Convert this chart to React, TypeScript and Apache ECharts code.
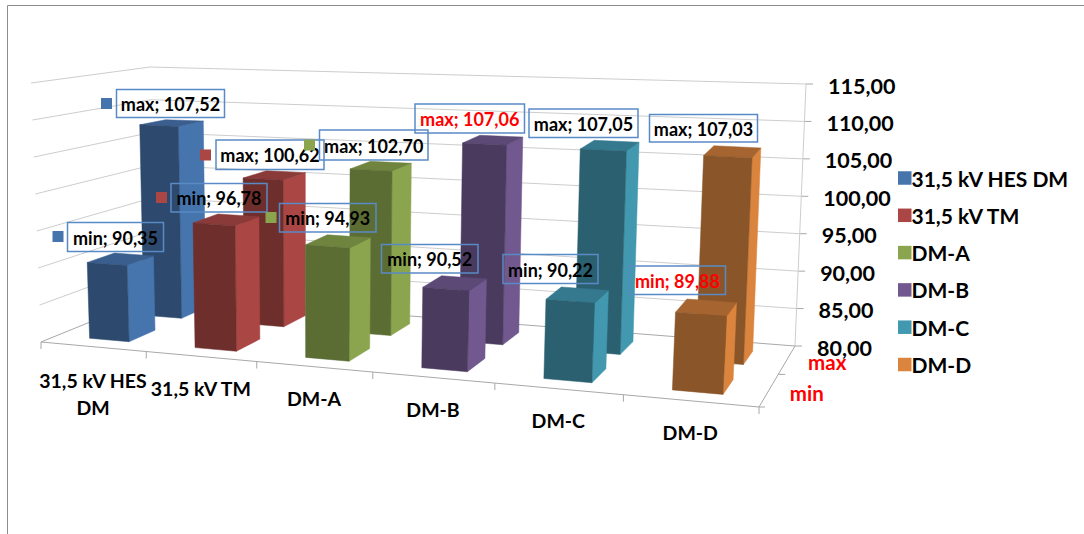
import React, { useEffect, useRef } from "react";
import * as echarts from "echarts";

// Categories along the front edge and the two rows running into the depth
const categories = ["31,5 kV HES DM", "31,5 kV TM", "DM-A", "DM-B", "DM-C", "DM-D"];
const categoryTicks = ["31,5 kV HES\nDM", "31,5 kV TM", "DM-A", "DM-B", "DM-C", "DM-D"];
const rows = ["min", "max"];

// Measured values per category
const minValues = [90.35, 96.78, 94.93, 90.52, 90.22, 89.88];
const maxValues = [107.52, 100.62, 102.7, 107.06, 107.05, 107.03];
const valueTicks = [80, 85, 90, 95, 100, 105, 110, 115];

// Face colours of each column: front, side, top, legend key
const frontColors = ["#2d4a6e", "#6e2e2c", "#5b6d33", "#4a3a5e", "#2b6071", "#8a5528"];
const sideColors = ["#4675ae", "#aa4643", "#8ba54e", "#71588f", "#4198af", "#db843d"];
const topColors = ["#3a5f8e", "#8a3a38", "#6e843f", "#5c4976", "#35798e", "#a66530"];

// Value label boxes: left, top, width, height, in category/row order
const minBoxes = [
  [67.5, 222.5, 96, 29], [171, 183.5, 96, 28.5], [279.5, 203.5, 96.5, 28.5],
  [381.5, 244.5, 96.5, 28.5], [503, 254.5, 95, 29], [629.5, 266, 96, 28.5],
];
const maxBoxes = [
  [116.5, 89.5, 108, 28], [216, 140, 108, 29.5], [319.5, 130, 108.5, 30],
  [415, 104, 109.5, 29], [529, 109, 109, 28.5], [649.5, 114.5, 108, 27.5],
];
// Legend-key markers next to some value labels: [left, top] per category
const minMarkers = [[52.5, 231], [156, 192], [265.5, 212]];
const maxMarkers = [[101, 98], [200, 149.5], [304, 139.5]];
// Labels printed in red
const redLabels = ["max-3", "min-5"];

const FONT = "Lato";
const BORDER = "#5a8ac6";
const GRID = "#cdcdcd";
const EDGE = "#a8a8a8";

type Pt = [number, number];

// Projective map of the unit square (u, d) onto a screen quadrilateral
function quadMap(p0: Pt, p1: Pt, p2: Pt, p3: Pt) {
  const dx1 = p1[0] - p2[0], dx2 = p3[0] - p2[0], sx = p0[0] - p1[0] + p2[0] - p3[0];
  const dy1 = p1[1] - p2[1], dy2 = p3[1] - p2[1], sy = p0[1] - p1[1] + p2[1] - p3[1];
  const den = dx1 * dy2 - dx2 * dy1;
  const g = (sx * dy2 - dx2 * sy) / den;
  const h = (dx1 * sy - sx * dy1) / den;
  const a = p1[0] - p0[0] + g * p1[0], b = p3[0] - p0[0] + h * p3[0];
  const d = p1[1] - p0[1] + g * p1[1], e = p3[1] - p0[1] + h * p3[1];
  return (u: number, v: number): Pt => {
    const w = g * u + h * v + 1;
    return [(a * u + b * v + p0[0]) / w, (d * u + e * v + p0[1]) / w];
  };
}

// Floor of the plot box, and the full-height vertical at each of its corners
const floorMap = quadMap([41, 342], [759, 407], [795, 346], [154, 296]);
const UP_FRONT_LEFT: Pt = [-10, -259];
const UP_FRONT_RIGHT: Pt = [14, -280];
const UP_BACK_RIGHT: Pt = [11, -262];
const UP_BACK_LEFT: Pt = [-4, -229];
function project(u: number, d: number, h: number): Pt {
  const a = floorMap(u, d);
  const up = [0, 1].map(
    (k) =>
      (1 - d) * ((1 - u) * UP_FRONT_LEFT[k] + u * UP_FRONT_RIGHT[k]) +
      d * ((1 - u) * UP_BACK_LEFT[k] + u * UP_BACK_RIGHT[k]),
  );
  return [a[0] + up[0] * h, a[1] + up[1] * h];
}

// Footprint of the columns inside the plot box
const BAR_GAP = 0.31;
const BAR_SHIFT = 0.001;
const ROW_SPANS: Pt[] = [[0.13, 0.36], [0.61, 0.85]];

// Height fraction of a value, read through the value axis of the hidden grid
function heightOf(api: any, params: any, value: number) {
  const sys = params.coordSys;
  const y = api.coord([0, value])[1];
  return (sys.y + sys.height - y) / sys.height;
}

const line = (a: Pt, b: Pt, stroke: string, width = 1) => ({
  type: "line",
  shape: { x1: a[0], y1: a[1], x2: b[0], y2: b[1] },
  style: { stroke, lineWidth: width, fill: "none" },
});

const label = (text: string, x: number, y: number, size: number, fill = "#000", align = "center") => ({
  type: "text",
  style: {
    text, x, y, fill, align, verticalAlign: "middle",
    fontFamily: FONT, fontSize: size, fontWeight: 700, lineHeight: 27,
  },
});

// Walls, floor edges, ticks and axis labels
function renderFrame(params: any, api: any) {
  const children: any[] = [];
  if (params.dataIndex !== 0) return { type: "group", children };
  valueTicks.forEach((v) => {
    const h = heightOf(api, params, v);
    const back = project(1, 1, h);
    const corner = project(0, 1, h);
    const front = project(0, 0, h);
    if (v !== 80) {
      children.push(line(front, corner, GRID), line(corner, back, GRID));
    }
    children.push(line(back, [back[0] + 7, back[1]], EDGE));
    children.push(label(v.toFixed(2).replace(".", ","), back[0] + 22, back[1] + 1.5, 21.5, "#000", "left"));
  });
  children.push(line(project(1, 1, 0), project(1, 1, 1), GRID));
  children.push(line(project(0, 0, 0), project(0, 1, 0), EDGE));
  children.push(line(project(0, 1, 0), project(1, 1, 0), EDGE));
  children.push(line(project(0, 0, 0), project(1, 0, 0), EDGE));
  children.push(line(project(1, 0, 0), project(1, 1, 0), EDGE));
  categories.forEach((_, i) => {
    const t = project(i / categories.length, 0, 0);
    children.push(line(t, [t[0], t[1] + 7], EDGE));
    const m = project((i + 0.5) / categories.length, 0, 0);
    children.push(label(categoryTicks[i], m[0], m[1] + (i === 0 ? 47 : 32), 19.5));
  });
  const end = project(1, 0, 0);
  children.push(line(end, [end[0], end[1] + 7], EDGE));
  children.push(line(end, [end[0] + 6, end[1]], EDGE));
  const mid = project(1, 0.5, 0);
  children.push(line(mid, [mid[0] + 7, mid[1]], EDGE));
  rows.forEach((r, i) => {
    const p = project(1, (ROW_SPANS[i][0] + ROW_SPANS[i][1]) / 2, 0);
    children.push(label(r, p[0] + (i === 0 ? 38 : 41), p[1] + (i === 0 ? 2.5 : 1), 20.5, "#ff0000"));
  });
  return { type: "group", children };
}

// One column: front, side and top faces through the projection
function renderColumn(params: any, api: any) {
  const c = api.value(0);
  const r = api.value(1);
  const h = heightOf(api, params, api.value(2));
  const n = categories.length;
  const u0 = (c + BAR_GAP) / n + BAR_SHIFT, u1 = (c + 1 - BAR_GAP) / n + BAR_SHIFT;
  const [d0, d1] = ROW_SPANS[r];
  const face = (pts: Pt[], fill: string) => ({
    type: "polygon",
    shape: { points: pts },
    style: { fill, stroke: fill, lineWidth: 0.5 },
  });
  return {
    type: "group",
    children: [
      face([project(u1, d0, 0), project(u1, d1, 0), project(u1, d1, h), project(u1, d0, h)], sideColors[c]),
      face([project(u0, d0, h), project(u1, d0, h), project(u1, d1, h), project(u0, d1, h)], topColors[c]),
      face([project(u0, d0, 0), project(u1, d0, 0), project(u1, d0, h), project(u0, d0, h)], frontColors[c]),
    ],
  };
}

// Value labels with their outlined boxes
function renderValueLabel(params: any, api: any) {
  const c = api.value(0);
  const r = api.value(1);
  const value = api.value(2);
  const name = rows[r];
  const [x, y, w, bh] = (r === 0 ? minBoxes : maxBoxes)[c];
  const marker = (r === 0 ? minMarkers : maxMarkers)[c];
  const red = redLabels.includes(`${name}-${c}`);
  const children: any[] = [
    {
      type: "rect",
      shape: { x, y, width: w, height: bh },
      style: { fill: "none", stroke: BORDER, lineWidth: 1.5 },
    },
    label(`${name}; ${value.toFixed(2).replace(".", ",")}`, x + w / 2, y + bh / 2 + 0.5, 18, red ? "#ff0000" : "#000"),
  ];
  if (marker) {
    children.push({
      type: "rect",
      shape: { x: marker[0], y: marker[1], width: 11, height: 11 },
      style: { fill: sideColors[c] },
    });
  }
  return { type: "group", children };
}

const columnData = (c: number) => [
  [c, 1, maxValues[c]],
  [c, 0, minValues[c]],
];

export default function App() {
  const ref = useRef<HTMLDivElement>(null);
  useEffect(() => {
    const chart = echarts.init(ref.current!, null, { renderer: "svg", width: 1084, height: 534 });
    const labelData = categories.flatMap((_, c) => [
      [c, 0, minValues[c]],
      [c, 1, maxValues[c]],
    ]);
    chart.setOption({
      animation: false,
      backgroundColor: "#ffffff",
      grid: { left: 0, right: 0, top: 0, bottom: 0 },
      xAxis: { type: "category", data: categories, show: false },
      yAxis: { type: "value", min: 80, max: 115, interval: 5, show: false },
      legend: {
        orient: "vertical",
        left: 893,
        top: 162.5,
        itemWidth: 13.5,
        itemHeight: 13.5,
        itemGap: 16.3,
        icon: "rect",
        data: categories,
        textStyle: { fontFamily: FONT, fontWeight: 700, fontSize: 21, color: "#000", padding: [0, 0, 0, -5] },
      },
      graphic: [
        {
          type: "polyline",
          shape: { points: [[7.5, 534], [7.5, 5.5], [1084, 5.5]] },
          style: { stroke: "#8c8c8c", lineWidth: 1, fill: "none" },
          silent: true,
        },
      ],
      series: [
        { type: "custom", name: "frame", renderItem: renderFrame, data: [[0]], z: 1, silent: true },
        ...categories.map((name, c) => ({
          type: "custom",
          name,
          renderItem: renderColumn,
          itemStyle: { color: sideColors[c] },
          encode: { x: 0, y: 2 },
          data: columnData(c),
          z: 2,
          silent: true,
        })),
        {
          type: "custom",
          name: "labels",
          renderItem: renderValueLabel,
          encode: { x: 0, y: 2 },
          data: labelData,
          z: 3,
          silent: true,
        },
      ],
    });
    return () => chart.dispose();
  }, []);
  return <div ref={ref} style={{ position: "absolute", left: 0, top: 0, width: 1084, height: 534 }} />;
}
